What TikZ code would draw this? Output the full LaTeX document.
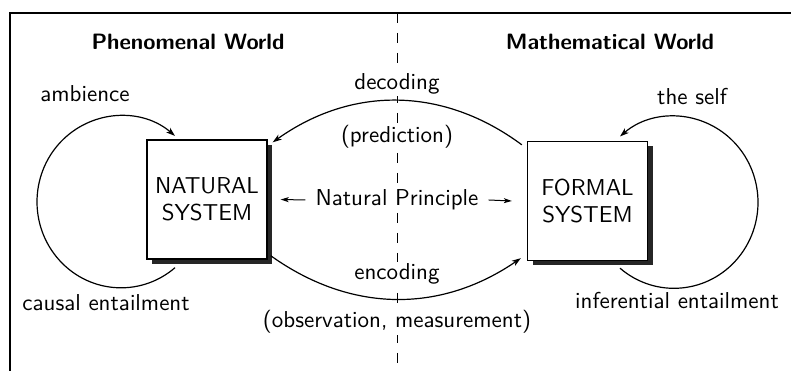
\documentclass[tikz,border=0pt]{standalone}
\usepackage{fontspec}
\setsansfont{lmsans10-regular.otf}[BoldFont=lmsans10-bold.otf]
\usetikzlibrary{arrows.meta,shadows}
\begin{document}
\begin{tikzpicture}[x=1pt,y=1pt,
  every node/.style={font=\sffamily\fontsize{23}{27}\selectfont},
  title/.style={font=\sffamily\bfseries\fontsize{22.2}{26}\selectfont},
  masked/.style={fill=white, inner sep=2pt},
  sysbox/.style={draw, line width=1.4pt, fill=white, minimum width=120pt,
    minimum height=119pt, align=center, inner sep=0pt,
    drop shadow={shadow xshift=5pt, shadow yshift=-5pt, opacity=1, fill=black!85}},
  flow/.style={line width=1.2pt, -{Stealth[length=9pt,width=6pt,inset=2.5pt]}},
  pointer/.style={line width=1pt, -{Stealth[length=8pt,width=5pt,inset=2pt]}}]
\useasboundingbox (0,0) rectangle (791,371);

% frame and the dividing line between the two worlds
\draw[line width=2pt] (9,358) -- (791,358);
\draw[line width=2pt] (10,358) -- (10,0);
\draw[line width=1pt, dash pattern=on 10pt off 10pt] (397,358) -- (397,0);

% the two systems
\node[sysbox] (nat) at (207,171.5) {NATURAL\\SYSTEM};
\node[sysbox] (for) at (587.5,170) {FORMAL\\SYSTEM};

% headings
\node[title] (phen) at (188,329) {Phenomenal World};
\node[title] (math) at (610,329) {Mathematical World};

% loop labels
\node (amb) at (85,277) {ambience};
\node (self) at (692,274) {the self};
\node (causal) at (106,68) {causal entailment};
\node (infer) at (677,70) {inferential entailment};

% labels on the dividing line
\node[masked] (dec) at (397,287) {decoding};
\node[masked] (pred) at (397,234) {(prediction)};
\node[masked] (np) at (397,171) {Natural Principle};
\node[masked] (enc) at (397,97) {encoding};
\node[masked] (obs) at (397,49) {(observation, measurement)};

% natural principle arrows
\draw[pointer] ([xshift=-8pt]np.west) -- ([xshift=13pt]nat.east);
\draw[pointer] ([xshift=8pt]np.east) -- ([xshift=-15pt]for.west);

% self-entailment loops
\draw[flow] ([shift={(-32pt,-8pt)}]nat.south)
  arc[start angle=-50, end angle=-310, x radius=84, y radius=86];
\draw[flow] ([shift={(32.5pt,-7pt)}]for.south)
  arc[start angle=-130, end angle=130, x radius=84, y radius=86];

% decoding and encoding
\draw[flow] ([shift={(-5pt,-4pt)}]for.north west) to[bend right=36]
  ([shift={(5pt,-3pt)}]nat.north east);
\draw[flow] ([shift={(3pt,4pt)}]nat.south east) to[bend right=35]
  ([shift={(-6pt,3pt)}]for.south west);
\end{tikzpicture}
\end{document}
